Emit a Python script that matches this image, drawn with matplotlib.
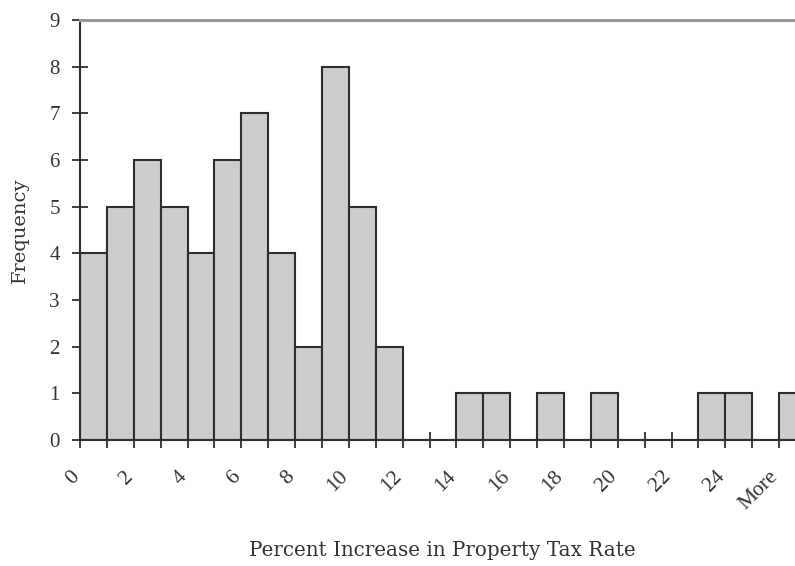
import matplotlib
matplotlib.use("Agg")
import matplotlib.pyplot as plt
import matplotlib.transforms as mtransforms

# Histogram bins (upper limits, Excel-style) and their frequencies
bin_labels = ["0", "1", "2", "3", "4", "5", "6", "7", "8", "9", "10", "11", "12",
              "13", "14", "15", "16", "17", "18", "19", "20", "21", "22", "23",
              "24", "25", "More"]
frequencies = [4, 5, 6, 5, 4, 6, 7, 4, 2, 8, 5, 2, 0, 0, 1, 1, 0, 1, 0, 1,
               0, 0, 0, 1, 1, 0, 1]
y_ticks = [0, 1, 2, 3, 4, 5, 6, 7, 8, 9]

x_title = "Percent Increase in Property Tax Rate"
y_title = "Frequency"

W, H, DPI = 795, 566, 100
fig = plt.figure(figsize=(W / DPI, H / DPI), dpi=DPI)
fig.patch.set_facecolor("white")

# plot area in pixels: left 80, right 806 (runs past the edge), top 20, bottom 440
ax = fig.add_axes([80 / W, (H - 440) / H, 726 / W, 420 / H])

positions = [i + 0.5 for i in range(len(frequencies))]
ax.bar(positions, frequencies, width=1.0, color="#cdcdcd",
       edgecolor="#2e2e2e", linewidth=1.5, zorder=2)

ax.set_xlim(0, len(frequencies))
ax.set_ylim(0, 9)

serif = ["Liberation Serif", "DejaVu Serif"]

ax.set_yticks(y_ticks)
ax.set_yticklabels([str(v) for v in y_ticks], fontsize=15, family=serif, color="#333333")
ax.set_xticks(range(len(frequencies) + 1))
ax.set_xticklabels([])

ax.tick_params(axis="both", direction="inout", length=11, width=1.3, color="#2e2e2e")
ax.tick_params(axis="y", pad=9)

for side in ("left", "bottom"):
    ax.spines[side].set_color("#2e2e2e")
    ax.spines[side].set_linewidth(1.5)
ax.spines["top"].set_color("#9a9a9a")
ax.spines["top"].set_linewidth(2.2)
ax.spines["right"].set_visible(False)

# category labels, every other bin, rotated 45 degrees
offset = mtransforms.ScaledTranslation(-17 / DPI, -34 / DPI, fig.dpi_scale_trans)
for i, lab in enumerate(bin_labels):
    if i % 2 == 0:
        ax.text(positions[i], 0, lab, transform=ax.get_xaxis_transform() + offset,
                rotation=45, rotation_mode="anchor", ha="right", va="center",
                fontsize=15.5, family=serif, color="#333333")

fig.text(442 / W, 1 - 551 / H, x_title, ha="center", va="center",
         fontsize=14.3, family=["DejaVu Serif"], color="#333333")
fig.text(20 / W, 1 - 230 / H, y_title, ha="center", va="center", rotation=90,
         fontsize=14, family=["DejaVu Serif"], color="#333333")

fig.savefig("out.png", dpi=DPI, facecolor="white")
